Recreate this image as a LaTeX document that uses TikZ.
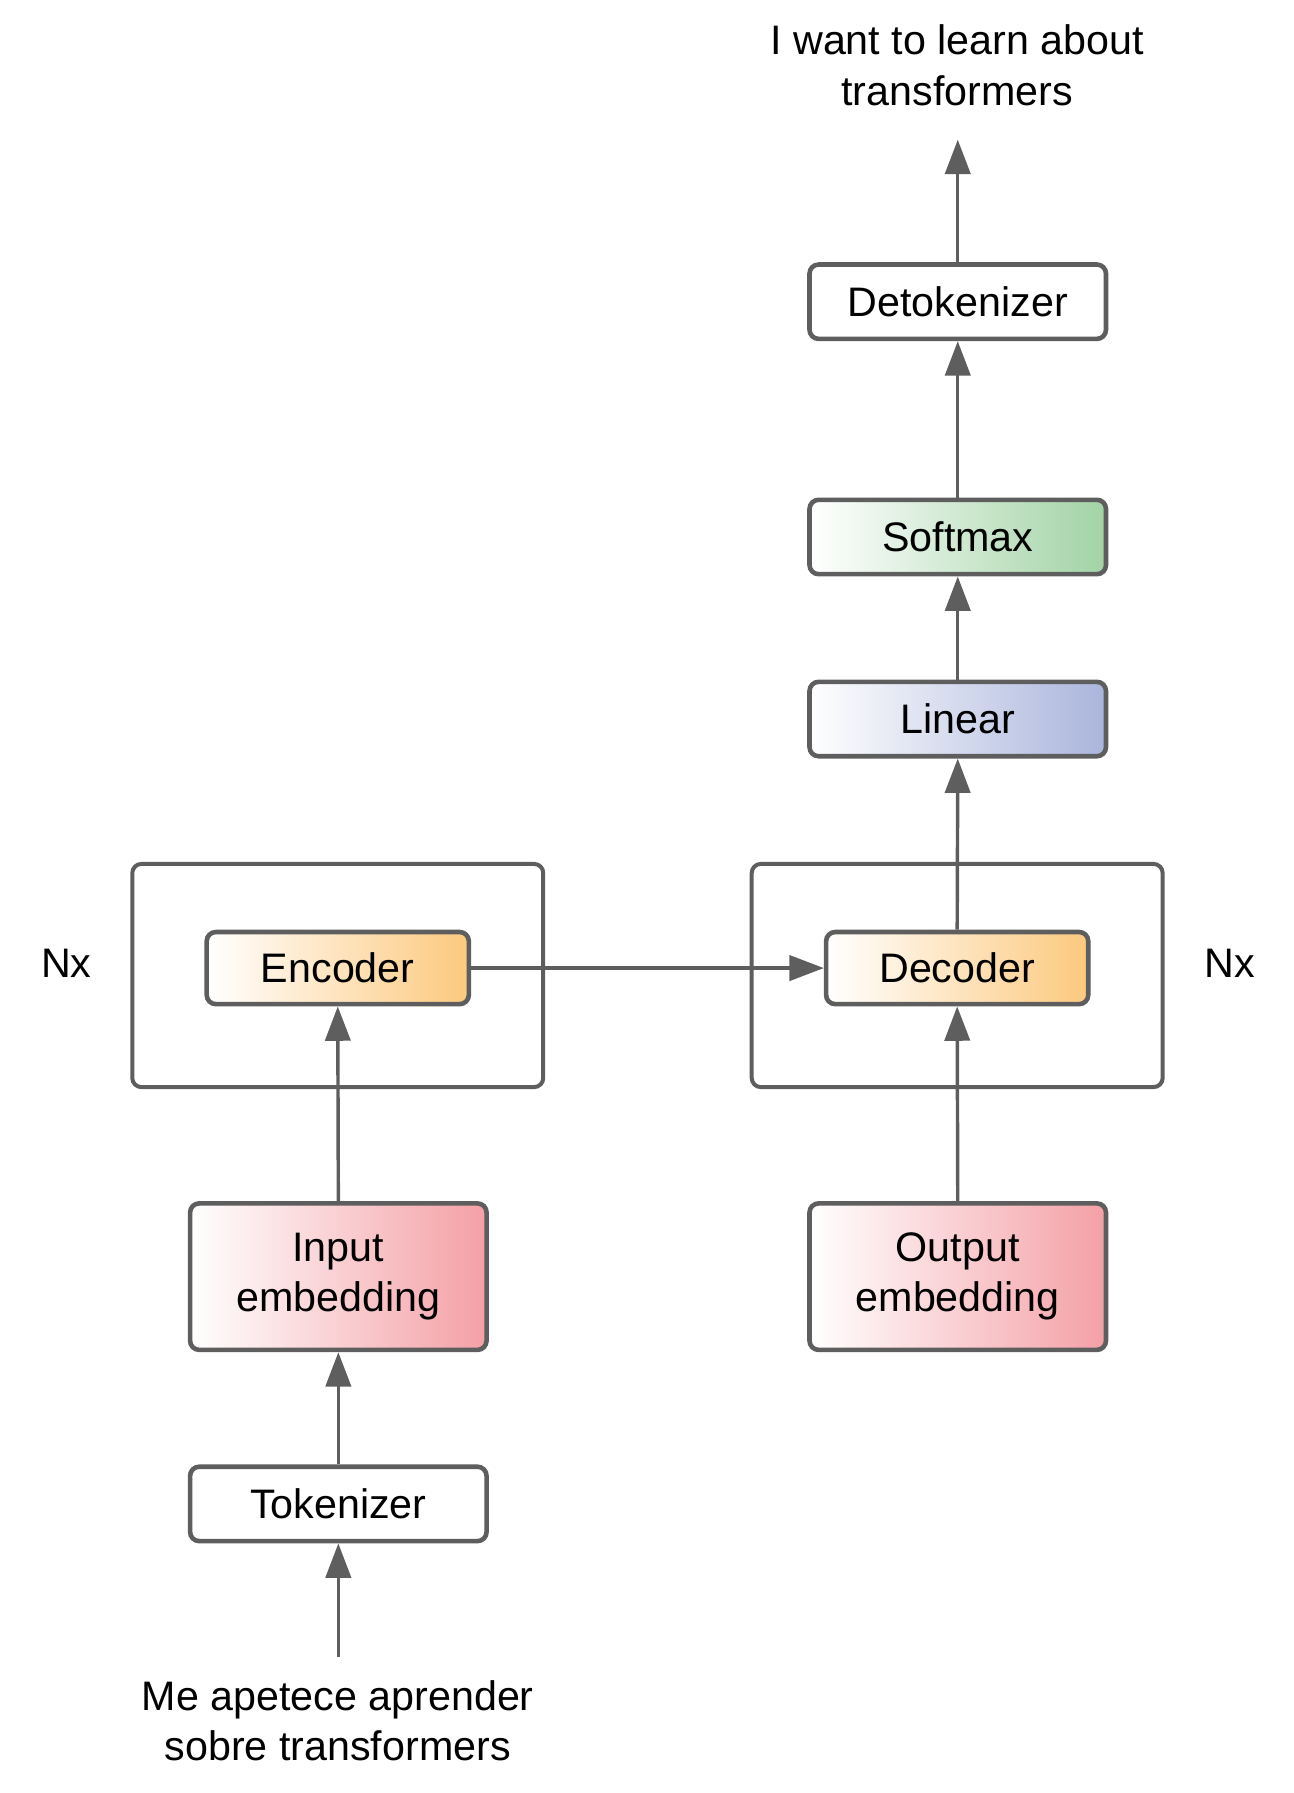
\documentclass[tikz,border=0pt]{standalone}
\usepackage{fontspec}
\setmainfont{Liberation Sans}
\usetikzlibrary{arrows.meta}
\definecolor{edge}{HTML}{5E5E5E}
\definecolor{cgreen}{HTML}{A2D3A5}
\definecolor{cblue}{HTML}{AAB5DC}
\definecolor{corange}{HTML}{FCC97E}
\definecolor{cpink}{HTML}{F4A0A6}
\begin{document}
\begin{tikzpicture}[x=0.02cm,y=-0.02cm,
  every node/.style={font=\fontsize{20.5}{25}\selectfont, text=black},
  blk/.style={draw=edge, line width=0.08cm, rounded corners=0.16cm, minimum width=5.18cm, minimum height=1.3cm, inner sep=0pt, align=center},
  tallblk/.style={blk, minimum height=2.56cm},
  innerblk/.style={blk, minimum width=4.58cm, minimum height=1.26cm},
  frame/.style={draw=edge, line width=0.07cm, rounded corners=0.16cm, minimum width=7.18cm, minimum height=3.9cm, inner sep=0pt},
  conn/.style={draw=edge, line width=0.06cm, -{Triangle[length=0.6cm,width=0.44cm]}},
  lbl/.style={align=center, inner sep=0pt}
]
\useasboundingbox (0,0) rectangle (1130,1566);

% outer frames
\node[frame] (encframe) at (295,852) {};
\node[frame] (decframe) at (836,852) {};

% blocks
\node[blk, fill=white] (detok) at (836.5,263.5) {Detokenizer};
\node[blk, left color=white, right color=cgreen] (softmax) at (836.5,469) {Softmax};
\node[blk, left color=white, right color=cblue] (linear) at (836.5,628) {Linear};
\node[innerblk, left color=white, right color=corange] (enc) at (295,845.5) {Encoder};
\node[innerblk, left color=white, right color=corange] (dec) at (836,845.5) {Decoder};
\node[tallblk, left color=white, right color=cpink] (inemb) at (295.5,1115) {Input\\embedding};
\node[tallblk, left color=white, right color=cpink] (outemb) at (836.5,1115) {Output\\embedding};
\node[blk, fill=white] (tok) at (295.5,1313.5) {Tokenizer};

% texts
\node[lbl] (outtext) at (836,57) {I want to learn about\\transformers};
\node[lbl] (intext) at (295,1503) {Me apetece aprender\\sobre transformers};
\node[lbl] (nxl) at (58,841) {Nx};
\node[lbl] (nxr) at (1074,841) {Nx};

\coordinate (top) at (836.5,122);
\coordinate (bot) at (295.5,1447);

% connectors
\draw[conn] (bot) -- (tok.south);
\draw[conn] (tok.north) -- (inemb.south);
\draw[conn] (inemb.north) -- (enc.south);
\draw[conn] (outemb.north) -- (dec.south);
\draw[conn] (enc.east) -- (dec.west);
\draw[conn] (dec.north) -- (linear.south);
\draw[conn] (linear.north) -- (softmax.south);
\draw[conn] (softmax.north) -- (detok.south);
\draw[conn] (detok.north) -- (top);
\end{tikzpicture}
\end{document}
